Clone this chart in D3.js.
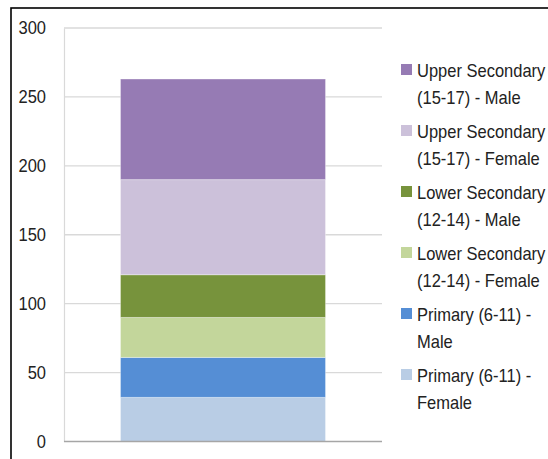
<!DOCTYPE html>
<html><head><meta charset="utf-8">
<script src="https://cdn.jsdelivr.net/npm/d3@7"></script>
<style>body{margin:0;background:#fff}svg{display:block}</style>
</head><body>
<svg id="c" width="548" height="459"></svg>
<script>
const categories = ["Total"];
const seriesNames = [
  "Primary (6-11) - Female",
  "Primary (6-11) - Male",
  "Lower Secondary (12-14) - Female",
  "Lower Secondary (12-14) - Male",
  "Upper Secondary (15-17) - Female",
  "Upper Secondary (15-17) - Male"
];
const seriesValues = [32, 29, 29, 31, 69, 73];
const seriesColors = ["#b9cde5", "#558ed5", "#c3d69b", "#77933c", "#ccc1da", "#967bb4"];
const legendLines = [
  ["Upper Secondary", "(15-17) - Male"],
  ["Upper Secondary", "(15-17) - Female"],
  ["Lower Secondary", "(12-14) - Male"],
  ["Lower Secondary", "(12-14) - Female"],
  ["Primary (6-11) -", "Male"],
  ["Primary (6-11) -", "Female"]
];
const yTicks = [0, 50, 100, 150, 200, 250, 300];

(function () {
const svg = d3.select("#c");
const font = "'Liberation Sans', Arial, sans-serif";
const stretch = 1.13;

// outer frame
svg.append("rect").attr("x", 11).attr("y", 8).attr("width", 700).attr("height", 600)
  .attr("fill", "none").attr("stroke", "#000").attr("stroke-width", 1.6);

const pLeft = 64, pRight = 382, pTop = 28, pBottom = 441.5;
const y = d3.scaleLinear().domain([0, 300]).range([pBottom, pTop]);
const x = d3.scaleBand().domain(categories).range([pLeft, pRight]).padding(0.216);

// gridlines
svg.append("g").selectAll("line").data(yTicks.filter(d => d > 0)).join("line")
  .attr("x1", pLeft).attr("x2", pRight).attr("y1", d => y(d)).attr("y2", d => y(d))
  .attr("stroke", "#d9d9d9").attr("stroke-width", 1.4);

// y axis
const yAxis = d3.axisLeft(y).tickValues(yTicks).tickSize(0).tickPadding(18);
const ga = svg.append("g").attr("transform", `translate(${pLeft},0)`).call(yAxis);
ga.select(".domain").attr("stroke", "#d9d9d9").attr("stroke-width", 1.2);
ga.selectAll("text").attr("font-family", font).attr("font-size", 16.5).attr("fill", "#222")
  .attr("transform", `scale(1,${stretch})`);

// stacked segments
const stackData = [Object.fromEntries(seriesNames.map((n, i) => [n, seriesValues[i]]))];
const stacked = d3.stack().keys(seriesNames)(stackData);
svg.append("g").selectAll("rect").data(stacked).join("rect")
  .attr("x", x("Total")).attr("width", x.bandwidth())
  .attr("y", d => y(d[0][1])).attr("height", d => y(d[0][0]) - y(d[0][1]))
  .attr("fill", (d, i) => seriesColors[i])
  .attr("stroke", "#ffffff").attr("stroke-opacity", 0.35).attr("stroke-width", 1);

// x axis baseline
svg.append("line").attr("x1", pLeft).attr("x2", pRight).attr("y1", y(0)).attr("y2", y(0))
  .attr("stroke", "#a6a6a6").attr("stroke-width", 1.4);

// legend
const legendOrder = [5, 4, 3, 2, 1, 0];
const lg = svg.append("g");
legendOrder.forEach((si, k) => {
  const gy = 64 + k * 61;
  lg.append("rect").attr("x", 401).attr("y", gy).attr("width", 11).attr("height", 11)
    .attr("fill", seriesColors[si]);
  legendLines[k].forEach((t, j) => {
    lg.append("text")
      .attr("transform", `translate(417,${gy + 13 + j * 27}) scale(1,${stretch})`)
      .attr("font-family", font).attr("font-size", 16.5).attr("fill", "#222").text(t);
  });
});
})();
</script>
</body></html>
